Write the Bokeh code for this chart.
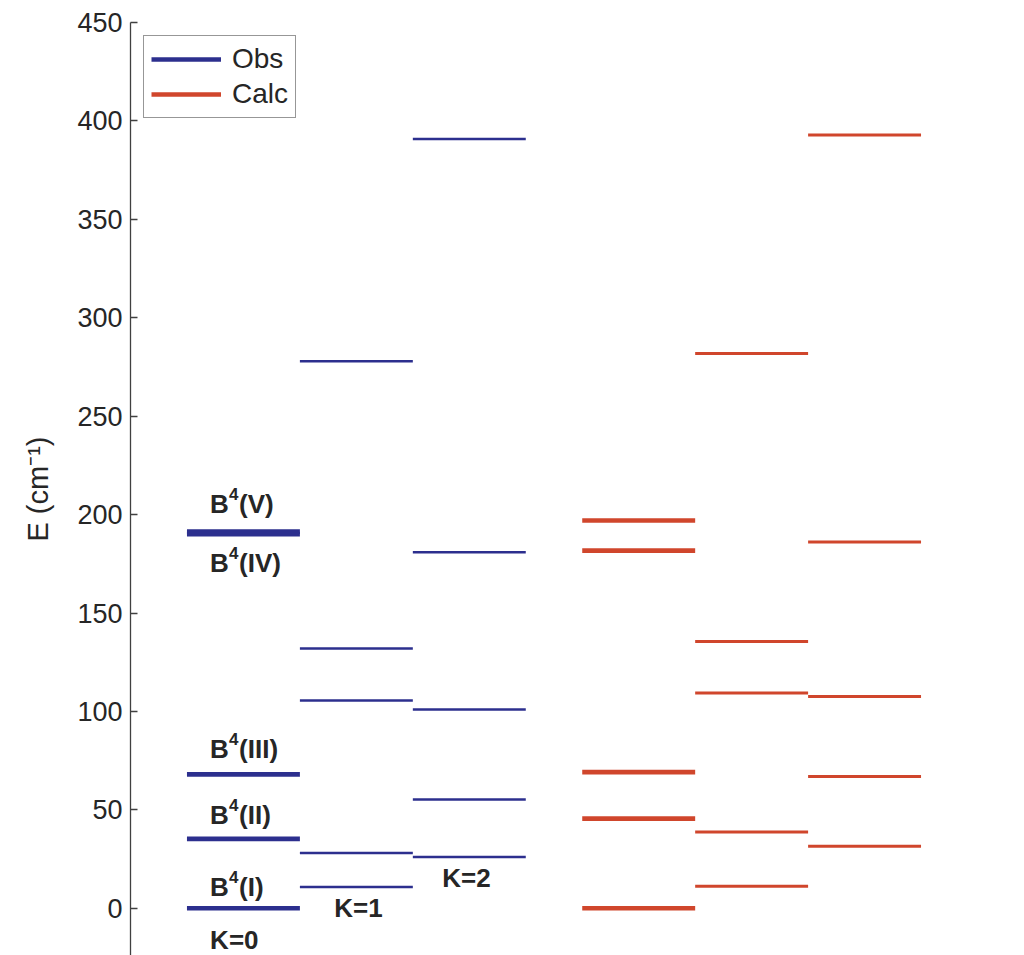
from bokeh.plotting import figure
from bokeh.models import Range1d, Legend, LegendItem, FixedTicker, ColumnDataSource
from bokeh.core.properties import value
from bokeh.embed import file_html
from bokeh.resources import INLINE

# ---- data (energy levels, cm^-1) ----
obs_k0 = [0.0, 35.2, 68.0, 190.1, 191.3]
obs_k1 = [10.8, 28.1, 105.6, 132.0, 277.9]
obs_k2 = [26.0, 55.3, 101.0, 180.9, 390.8]
calc_k0 = [0.0, 45.5, 69.2, 181.7, 197.0]
calc_k1 = [11.2, 38.7, 109.3, 135.5, 281.9]
calc_k2 = [31.5, 67.0, 107.6, 186.1, 392.9]
y_ticks = [0, 50, 100, 150, 200, 250, 300, 350, 400, 450]
k_labels = ["K=0", "K=1", "K=2"]
b_labels = ["(I)", "(II)", "(III)", "(IV)", "(V)"]

BLUE = "#2c2f8e"
RED = "#d0462c"
TXT = "#262626"
FONT = "Liberation Sans"

p = figure(width=1024, height=955, x_range=Range1d(-0.5, 7.0), y_range=Range1d(-24, 450),
           output_backend="svg", toolbar_location=None, x_axis_location=None,
           min_border_left=130, min_border_right=47, min_border_top=22, min_border_bottom=0)
p.xgrid.visible = False
p.ygrid.visible = False
p.outline_line_color = None
p.background_fill_color = "white"
p.border_fill_color = "white"

ax = p.yaxis[0]
ax.ticker = FixedTicker(ticks=y_ticks)
ax.minor_tick_line_color = None
ax.major_tick_in = 7
ax.major_tick_out = 0
ax.axis_line_color = "#404040"
ax.axis_line_width = 1.3
ax.major_tick_line_color = "#404040"
ax.major_tick_line_width = 1.3
ax.major_label_text_font = FONT
ax.major_label_text_font_size = "27px"
ax.major_label_text_color = TXT
ax.major_label_standoff = 8
ax.axis_label = "E (cm\u207b\u00b9)"
ax.axis_label_text_font = FONT
ax.axis_label_text_font_size = "29px"
ax.axis_label_text_font_style = "normal"
ax.axis_label_text_color = TXT
ax.axis_label_standoff = 20


def levels(vals, x0, color, width):
    src = ColumnDataSource(dict(x0=[x0] * len(vals), x1=[x0 + 1] * len(vals), y=vals))
    return p.segment(x0="x0", y0="y", x1="x1", y1="y", source=src,
                     line_color=color, line_width=width, line_cap="butt")


r_obs0 = levels(obs_k0, 0.0, BLUE, 4.7)
levels(obs_k1, 1.0, BLUE, 2.5)
levels(obs_k2, 2.0, BLUE, 2.5)
r_calc0 = levels(calc_k0, 3.5, RED, 4.7)
levels(calc_k1, 4.5, RED, 3.0)
levels(calc_k2, 5.5, RED, 3.0)

# ---- B^4 labels on K=0 observed column ----
bx = 0.205
b_y = [obs_k0[0], obs_k0[1], obs_k0[2], obs_k0[3], obs_k0[4]]
b_off = [-21, -24, -25, 29, -28]   # screen px (negative = above the line)
tf = dict(text_font=value(FONT), text_font_style="bold", text_color=TXT,
          text_align="left", text_baseline="alphabetic")
for lab, yy, off in zip(b_labels, b_y, b_off):
    p.text(x=[bx], y=[yy], text=["B"], y_offset=off, text_font_size="26px", **tf)
    p.text(x=[bx], y=[yy], text=["4"], x_offset=19, y_offset=off - 10, text_font_size="17px", **tf)
    p.text(x=[bx], y=[yy], text=[lab], x_offset=29, y_offset=off, text_font_size="26px", **tf)

# ---- K labels ----
k_x = [0.205, 1.305, 2.26]
k_ref = [obs_k0[0], obs_k1[0], obs_k2[0]]
k_off = [32, 21, 21]
for lab, xx, yy, off in zip(k_labels, k_x, k_ref, k_off):
    p.text(x=[xx], y=[yy], text=[lab], y_offset=off, text_font_size="26px", **tf)

legend = Legend(items=[LegendItem(label="Obs", renderers=[r_obs0]),
                       LegendItem(label="Calc", renderers=[r_calc0])],
                location="top_left", margin=13, padding=7, spacing=3,
                glyph_width=70, glyph_height=32, label_standoff=11,
                label_text_font=FONT, label_text_font_size="28px", label_text_color=TXT,
                border_line_color="#303030", border_line_width=1.2,
                background_fill_alpha=1.0)
p.add_layout(legend)

open("out.html", "w").write(file_html(p, INLINE))
